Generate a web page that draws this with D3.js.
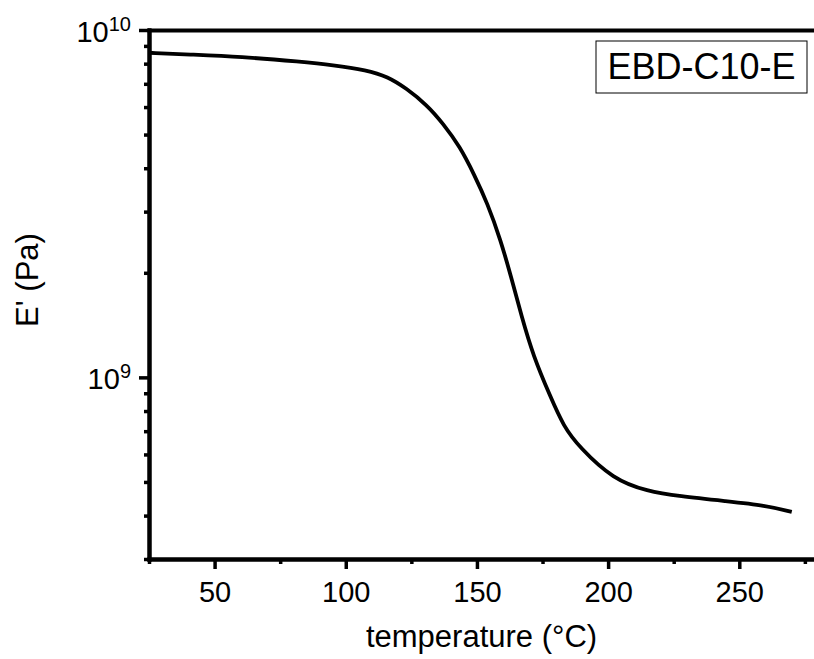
<!DOCTYPE html>
<html>
<head>
<meta charset="utf-8">
<script src="https://cdn.jsdelivr.net/npm/d3@7"></script>
<style>
  body { margin: 0; background: #fff; }
  svg { display: block; font-family: "Liberation Sans", Arial, sans-serif; }
</style>
</head>
<body>
<div id="chart"></div>
<script>
// storage modulus curve
var temperature = [25, 40, 60, 83, 95, 108, 116, 123, 131, 137, 143.5, 149, 154, 159, 163, 167, 171.5, 178, 183, 189, 202, 215, 227, 245, 260, 270];
var modulus = [8.6e9, 8.5e9, 8.38e9, 8.1e9, 7.93e9, 7.67e9, 7.34e9, 6.8e9, 6.08e9, 5.39e9, 4.62e9, 3.83e9, 3.17e9, 2.49e9, 1.95e9, 1.5e9, 1.15e9, 8.8e8, 7.23e8, 6.3e8, 5.08e8, 4.7e8, 4.55e8, 4.4e8, 4.28e8, 4.1e8];
var xMajor = [50, 100, 150, 200, 250];
var xMinor = [25, 75, 125, 175, 225, 275];
var yMajor = [1e9, 1e10];
var yMinor = [3e8, 4e8, 5e8, 6e8, 7e8, 8e8, 9e8, 2e9, 3e9, 4e9, 5e9, 6e9, 7e9, 8e9, 9e9];
var seriesName = 'EBD-C10-E';

window.onload = function () {
    const W = 814, H = 659;
    const left = 149, top = 30, bottom = 559;

    var svg = d3.select('#chart').append('svg')
        .attr('width', W).attr('height', H);

    var x = d3.scaleLinear().domain([25, 280]).range([left, left + 255 * 2.6235]);
    var y = d3.scaleLog().domain([3e8, 1e10]).range([bottom, top]);

    // minor ticks first, majors on top
    svg.append('g').attr('transform', 'translate(0,' + bottom + ')')
        .call(d3.axisBottom(x).tickValues(xMinor).tickSize(5).tickSizeOuter(0).tickFormat(''));
    svg.append('g').attr('transform', 'translate(' + left + ',0)')
        .call(d3.axisLeft(y).tickValues(yMinor).tickSize(5).tickSizeOuter(0).tickFormat(''));

    var xAxis = svg.append('g').attr('transform', 'translate(0,' + bottom + ')')
        .call(d3.axisBottom(x).tickValues(xMajor).tickSize(10).tickSizeOuter(0).tickPadding(12));
    xAxis.selectAll('text').attr('font-size', 29).attr('font-family', 'Liberation Sans')
        .attr('fill', '#000');

    var yAxis = svg.append('g').attr('transform', 'translate(' + left + ',0)')
        .call(d3.axisLeft(y).tickValues(yMajor).tickSize(10).tickSizeOuter(0).tickPadding(8)
            .tickFormat(''));
    yAxis.selectAll('.tick text').each(function (d) {
        var t = d3.select(this).attr('font-size', 29).attr('font-family', 'Liberation Sans')
            .attr('fill', '#000').attr('dy', '0.4em');
        t.append('tspan').text('10');
        t.append('tspan').attr('font-size', 20).attr('dy', '-0.55em')
            .text(Math.round(Math.log10(d)));
    });

    // top frame line
    svg.append('g').attr('transform', 'translate(0,' + top + ')')
        .call(d3.axisTop(x).tickValues([]).tickSizeOuter(0));

    svg.selectAll('.tick line')
        .attr('stroke', '#000').attr('stroke-width', 3.5);
    svg.selectAll('.domain')
        .attr('stroke', '#000').attr('stroke-width', 4).attr('stroke-linecap', 'square');

    // the curve (basis spline smooths the hand-read points)
    var line = d3.line()
        .x(function (d, i) { return x(temperature[i]); })
        .y(function (d) { return y(d); })
        .curve(d3.curveBasis);
    svg.append('path').datum(modulus)
        .attr('d', line)
        .attr('fill', 'none')
        .attr('stroke', '#000')
        .attr('stroke-width', 3.8)
        .attr('stroke-linejoin', 'round');

    // axis titles
    svg.append('text')
        .attr('x', (left + W) / 2).attr('y', 647)
        .attr('text-anchor', 'middle').attr('font-size', 31)
        .text('temperature (°C)');
    svg.append('text')
        .attr('transform', 'translate(38,280) rotate(-90)')
        .attr('text-anchor', 'middle').attr('font-size', 31)
        .text("E' (Pa)");

    // series label box
    var lg = svg.append('g');
    lg.append('rect')
        .attr('x', 596).attr('y', 41).attr('width', 211).attr('height', 52)
        .attr('fill', '#fff').attr('stroke', '#000').attr('stroke-width', 1);
    lg.append('text')
        .attr('x', 701.5).attr('y', 78.5)
        .attr('text-anchor', 'middle').attr('font-size', 36)
        .text(seriesName);
};
</script>
</body>
</html>
